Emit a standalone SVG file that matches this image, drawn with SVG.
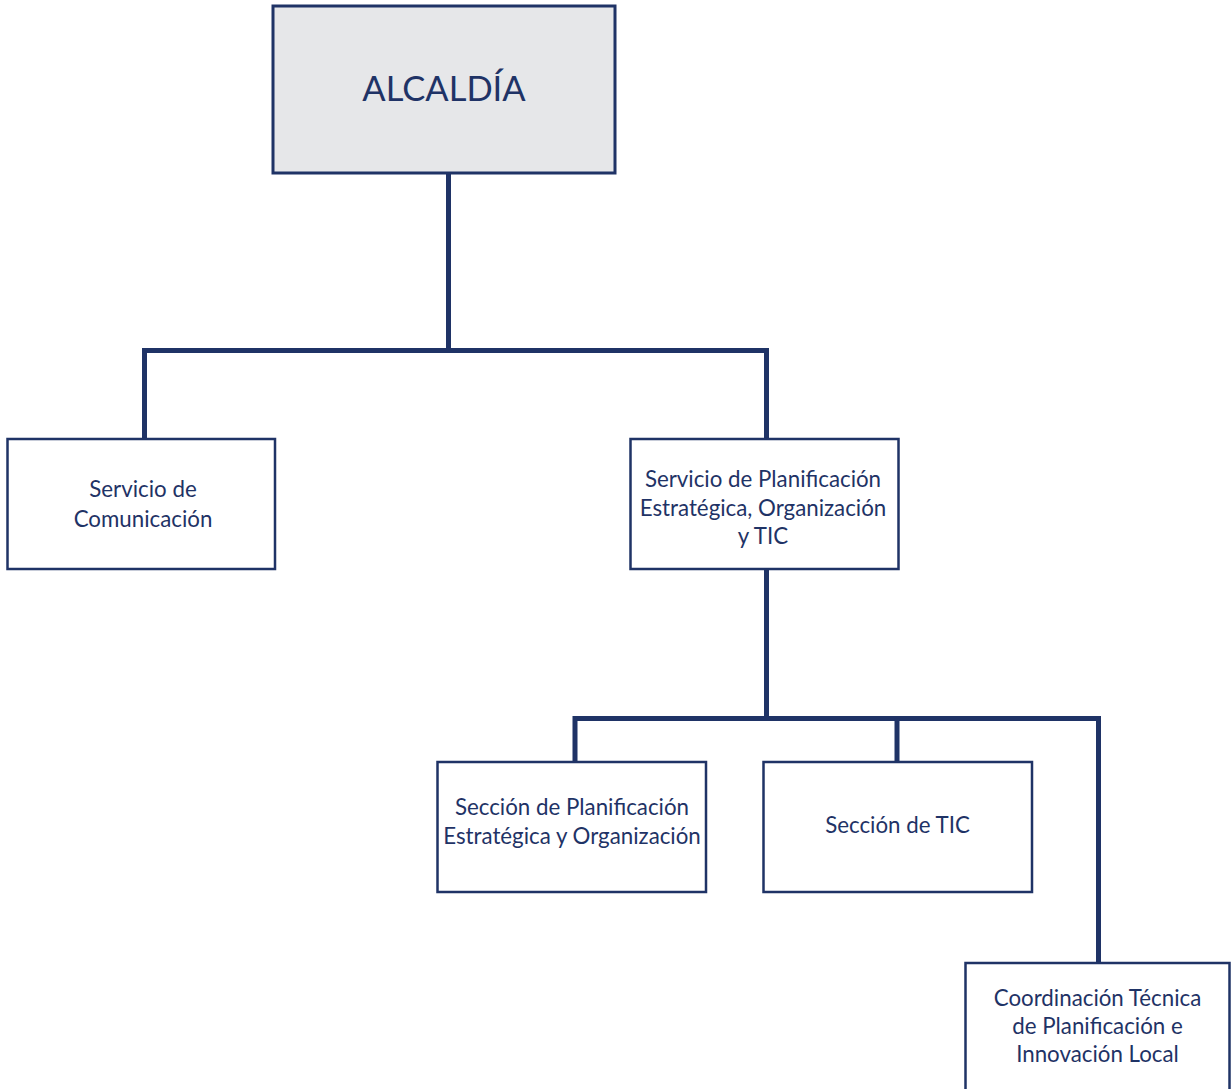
<svg xmlns="http://www.w3.org/2000/svg" width="1231" height="1089" viewBox="0 0 1231 1089">
<style>
.box{fill:#ffffff;stroke:#1f3366;stroke-width:2.5}
.top{fill:#e6e7e9;stroke:#1f3366;stroke-width:3}
.lbl{font-family:Lato,"Liberation Sans",sans-serif;font-size:22.3px;fill:#1f3366;text-anchor:middle}
.big{font-family:Lato,"Liberation Sans",sans-serif;font-size:34.5px;fill:#1f3366;text-anchor:middle}
.con{fill:none;stroke:#1f3366;stroke-width:5;stroke-linejoin:miter;stroke-linecap:butt}
</style>
<rect width="1231" height="1089" fill="#ffffff"/>
<g id="connectors">
<path class="con" d="M448.5 173 V350.5"/>
<path class="con" d="M144.5 439 V350.5 H766.5 V439"/>
<path class="con" d="M766.5 569 V718.5"/>
<path class="con" d="M575 762 V718.5 H1098.5 V963"/>
<path class="con" d="M897 718.5 V762"/>
</g>
<g id="alcaldia">
<rect class="top" x="273" y="6" width="342" height="167"/>
<text class="big" x="444" y="101">ALCALDÍA</text>
</g>
<g id="comunicacion">
<rect class="box" x="7.5" y="439" width="267.5" height="130"/>
<text class="lbl" x="143" y="497">Servicio de</text>
<text class="lbl" x="143" y="527">Comunicación</text>
</g>
<g id="planificacion">
<rect class="box" x="630.5" y="439" width="268" height="130"/>
<text class="lbl" x="763" y="487">Servicio de Planificación</text>
<text class="lbl" x="763" y="516">Estratégica, Organización</text>
<text class="lbl" x="763" y="544">y TIC</text>
</g>
<g id="seccion-planificacion">
<rect class="box" x="437.5" y="762" width="268.5" height="130"/>
<text class="lbl" x="572" y="815">Sección de Planificación</text>
<text class="lbl" x="572" y="844">Estratégica y Organización</text>
</g>
<g id="seccion-tic">
<rect class="box" x="763.5" y="762" width="268.5" height="130"/>
<text class="lbl" x="897.5" y="833">Sección de TIC</text>
</g>
<g id="coordinacion">
<rect class="box" x="965.5" y="963" width="264" height="140"/>
<text class="lbl" x="1097.5" y="1006">Coordinación Técnica</text>
<text class="lbl" x="1097.5" y="1034">de Planificación e</text>
<text class="lbl" x="1097.5" y="1062">Innovación Local</text>
</g>
</svg>
